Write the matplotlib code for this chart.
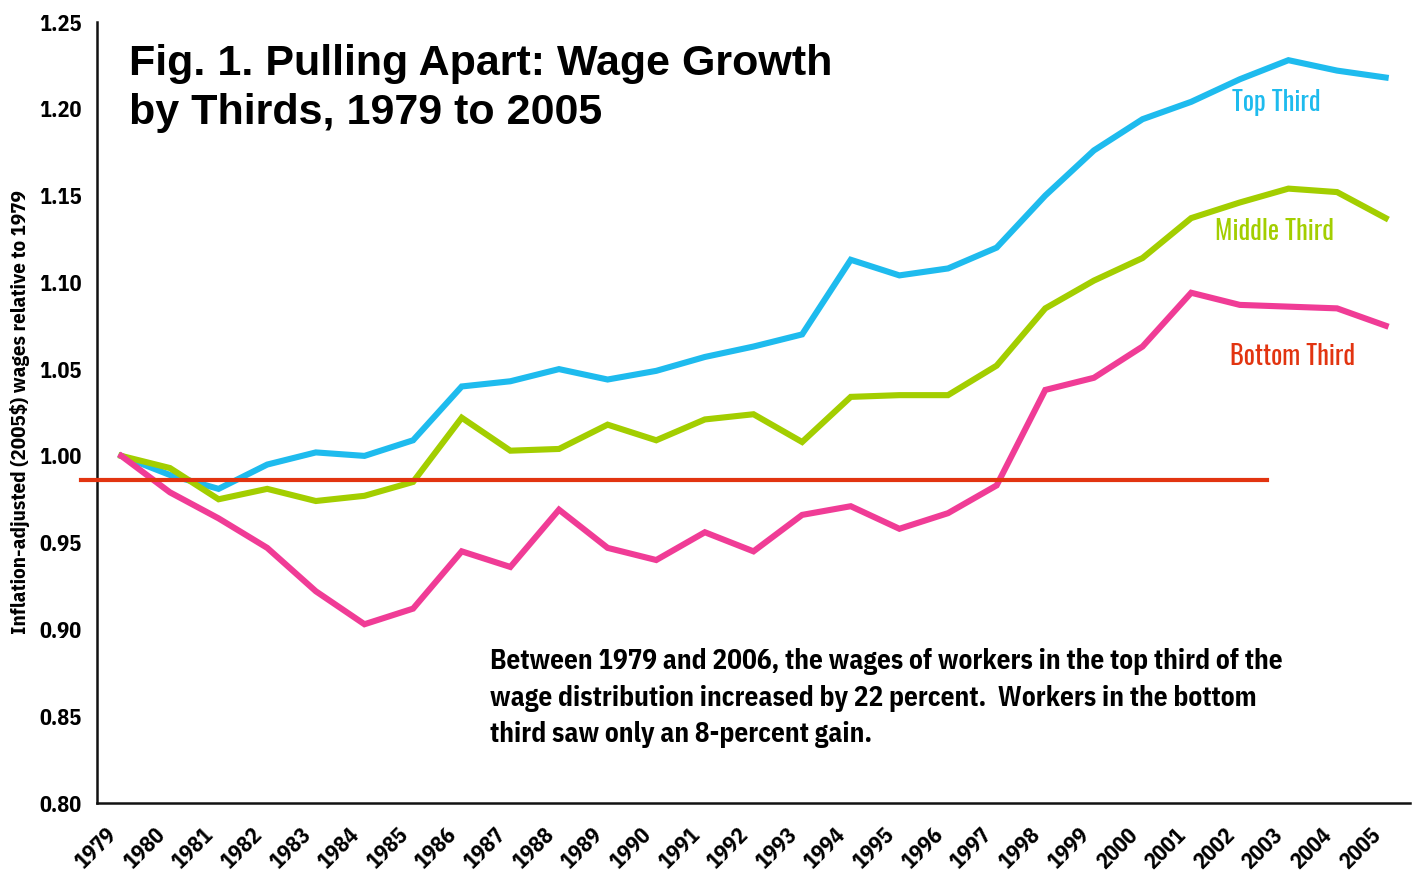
import matplotlib
matplotlib.use("Agg")
import matplotlib.pyplot as plt
import matplotlib.transforms as mtransforms

years = list(range(1979, 2006))
top_third = [1.000, 0.989, 0.981, 0.995, 1.002, 1.000, 1.009, 1.040, 1.043, 1.050,
             1.044, 1.049, 1.057, 1.063, 1.070, 1.113, 1.104, 1.108, 1.120, 1.150,
             1.176, 1.194, 1.204, 1.217, 1.228, 1.222, 1.218]
middle_third = [1.000, 0.993, 0.975, 0.981, 0.974, 0.977, 0.985, 1.022, 1.003, 1.004,
                1.018, 1.009, 1.021, 1.024, 1.008, 1.034, 1.035, 1.035, 1.052, 1.085,
                1.101, 1.114, 1.137, 1.146, 1.154, 1.152, 1.137]
bottom_third = [1.000, 0.979, 0.964, 0.947, 0.922, 0.903, 0.912, 0.945, 0.936, 0.969,
                0.947, 0.940, 0.956, 0.945, 0.966, 0.971, 0.958, 0.967, 0.983, 1.038,
                1.045, 1.063, 1.094, 1.087, 1.086, 1.085, 1.075]
reference_level = 0.986
y_ticks = [0.80, 0.85, 0.90, 0.95, 1.00, 1.05, 1.10, 1.15, 1.20, 1.25]

NARROW = ["IBM Plex Sans Condensed", "Liberation Sans", "DejaVu Sans"]
CONDENSED_LABEL = ["Oswald", "Antonio", "Fjalla One", "Archivo Narrow",
                   "IBM Plex Sans Condensed", "DejaVu Sans"]
WIDE = ["Liberation Sans", "DejaVu Sans"]

C_TOP = "#1EBBEE"
C_MID = "#A3CE00"
C_BOT = "#F03C96"
C_RED = "#E23410"

fig = plt.figure(figsize=(14.14, 8.71), dpi=100)
ax = fig.add_axes([97 / 1414, 1 - 803 / 871, (1410 - 97) / 1414, (803 - 22) / 871])

x = list(range(len(years)))
ax.plot(x, top_third, color=C_TOP, lw=4.4, solid_joinstyle="miter", zorder=3)
ax.plot(x, middle_third, color=C_MID, lw=4.4, solid_joinstyle="miter", zorder=3)
ax.plot(x, bottom_third, color=C_BOT, lw=4.4, solid_joinstyle="miter", zorder=3)
ax.plot([-0.83, 23.55], [reference_level, reference_level], color=C_RED, lw=3.0,
        clip_on=False, zorder=4)

ax.set_xlim(-0.5, len(years) - 0.5)
ax.set_ylim(0.80, 1.25)

for s in ["top", "right"]:
    ax.spines[s].set_visible(False)
for s in ["left", "bottom"]:
    ax.spines[s].set_linewidth(1.8)
    ax.spines[s].set_color("#111111")

ax.set_yticks(y_ticks)
ax.set_yticklabels([f"{v:.2f}" for v in y_ticks], family=NARROW, fontweight="bold",
                   fontsize=16)
ax.tick_params(axis="y", length=0, pad=11)

ax.set_xticks(x)
ax.set_xticklabels([str(y) for y in years], family=NARROW, fontweight="bold",
                   fontsize=16, rotation=45, ha="right", va="top",
                   rotation_mode="anchor")
ax.tick_params(axis="x", length=0, pad=15)
offset = mtransforms.ScaledTranslation(-16 / 100, 0, fig.dpi_scale_trans)
for lbl in ax.get_xticklabels():
    lbl.set_transform(lbl.get_transform() + offset)

fig.text(20 / 1414, 1 - 412 / 871, "Inflation-adjusted (2005$) wages relative to 1979",
         rotation=90, ha="center", va="center", family=NARROW, fontweight="bold",
         fontsize=15.1)

fig.text(129 / 1414, 1 - 44 / 871,
         "Fig. 1. Pulling Apart: Wage Growth\nby Thirds, 1979 to 2005",
         ha="left", va="top", family=WIDE, fontweight="bold", fontsize=31,
         linespacing=1.3)

fig.text(490 / 1414, 1 - 648 / 871,
         "Between 1979 and 2006, the wages of workers in the top third of the\n"
         "wage distribution increased by 22 percent.  Workers in the bottom\n"
         "third saw only an 8-percent gain.",
         ha="left", va="top", family=NARROW, fontweight="bold", fontsize=19.6,
         linespacing=1.46)

fig.text(1276 / 1414, 1 - 103 / 871, "Top Third", color=C_TOP, ha="center",
         va="center", family=CONDENSED_LABEL, fontsize=19)
fig.text(1274 / 1414, 1 - 232 / 871, "Middle Third", color=C_MID, ha="center",
         va="center", family=CONDENSED_LABEL, fontsize=19)
fig.text(1293 / 1414, 1 - 356 / 871, "Bottom Third", color=C_RED, ha="center",
         va="center", family=CONDENSED_LABEL, fontsize=19)

fig.savefig("out.png", dpi=100, facecolor="white")
